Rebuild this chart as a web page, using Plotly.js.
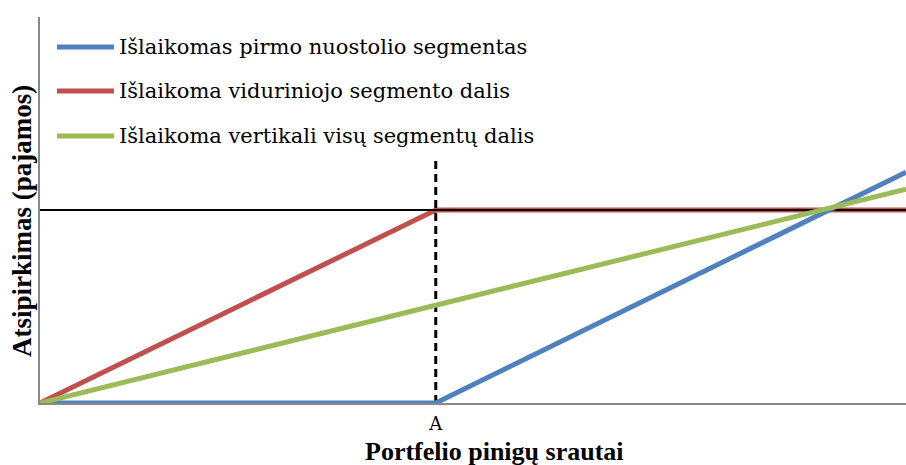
<!DOCTYPE html>
<html>
<head>
<meta charset="utf-8">
<script src="https://cdn.plot.ly/plotly-3.0.1.min.js"></script>
<style>html,body{margin:0;padding:0;background:#fff;}#chart{width:906px;height:465px;}</style>
</head>
<body>
<div id="chart"></div>
<script>
// Data (arbitrary units: x 0..100, y 0..100)
const pointA = 45.7;
const seriesNames = ["Išlaikomas pirmo nuostolio segmentas", "Išlaikoma viduriniojo segmento dalis", "Išlaikoma vertikali visų segmentų dalis"];
const seriesColors = ["#4F81BD", "#C0504D", "#9BBB59"];
const blueX = [0, 45.7, 100];
const blueY = [0, 0, 59.8];
const redX = [0, 45.7, 100];
const redY = [0, 50, 50];
const greenX = [0, 100];
const greenY = [0, 55.4];
const levelX = [0, 100];
const levelY = [50, 50];
const dashX = [45.7, 45.7];
const dashY = [0, 63];
const tickVals = [pointA];
const tickText = ["A"];
const xTitle = "Portfelio pinigų srautai";
const yTitle = "Atsipirkimas (pajamos)";

const serif = "'Liberation Serif', 'DejaVu Serif', serif";
const serifRegular = "'DejaVu Serif', serif";
const W = 906, H = 465, ML = 40, MR = 0, MT = 17, MB = 62;
const PW = W - ML - MR, PH = H - MT - MB;
const px = v => (v - ML) / PW;      // pixel -> paper x
const py = v => (H - MB - v) / PH;  // pixel -> paper y

const traces = [
  {x: redX, y: redY, mode: "lines", name: seriesNames[1], line: {color: seriesColors[1], width: 5}, showlegend: false},
  {x: levelX, y: levelY, mode: "lines", showlegend: false, line: {color: "#000000", width: 2}, hoverinfo: "skip"},
  {x: dashX, y: dashY, mode: "lines", showlegend: false, line: {color: "#000000", width: 3, dash: "8px,5px"}, hoverinfo: "skip"},
  {x: blueX, y: blueY, mode: "lines", name: seriesNames[0], line: {color: seriesColors[0], width: 5}, showlegend: false},
  {x: greenX, y: greenY, mode: "lines", name: seriesNames[2], line: {color: seriesColors[2], width: 5}, showlegend: false}
];

// Manual legend (line samples + labels) in the top-left of the plot area
const legendRows = [47, 91, 136];
const shapes = [];
const annotations = [];
seriesNames.forEach((name, i) => {
  shapes.push({type: "line", xref: "paper", yref: "paper", x0: px(57), x1: px(114), y0: py(legendRows[i]), y1: py(legendRows[i]),
               line: {color: seriesColors[i], width: 5}});
  annotations.push({xref: "paper", yref: "paper", x: px(117), y: py(legendRows[i]), xanchor: "left", yanchor: "middle",
                    text: name, showarrow: false, font: {family: serifRegular, size: 21, color: "#000000"}});
});
annotations.push({xref: "paper", yref: "paper", x: px(494), y: py(451), xanchor: "center", yanchor: "middle",
                  text: "<b>" + xTitle + "</b>", showarrow: false, font: {family: serif, size: 26, color: "#000000"}});
annotations.push({xref: "paper", yref: "paper", x: px(22), y: py(221), xanchor: "center", yanchor: "middle", textangle: -90,
                  text: "<b>" + yTitle + "</b>", showarrow: false, font: {family: serif, size: 27, color: "#000000"}});

const layout = {
  width: W, height: H,
  margin: {l: ML, r: MR, t: MT, b: MB},
  paper_bgcolor: "#ffffff", plot_bgcolor: "#ffffff",
  font: {family: serif, color: "#000000", size: 20},
  showlegend: false,
  shapes: shapes,
  annotations: annotations,
  xaxis: {range: [0, 100], showgrid: false, zeroline: false, showline: true, linecolor: "#898989", linewidth: 2,
          tickmode: "array", tickvals: tickVals, ticktext: tickText, ticks: "", ticklabelstandoff: 3,
          tickfont: {family: serifRegular, size: 18}, fixedrange: true},
  yaxis: {range: [0, 100], showgrid: false, zeroline: false, showline: true, linecolor: "#898989", linewidth: 2,
          showticklabels: false, ticks: "", fixedrange: true}
};
Plotly.newPlot("chart", traces, layout, {displayModeBar: false, staticPlot: true});
</script>
</body>
</html>
